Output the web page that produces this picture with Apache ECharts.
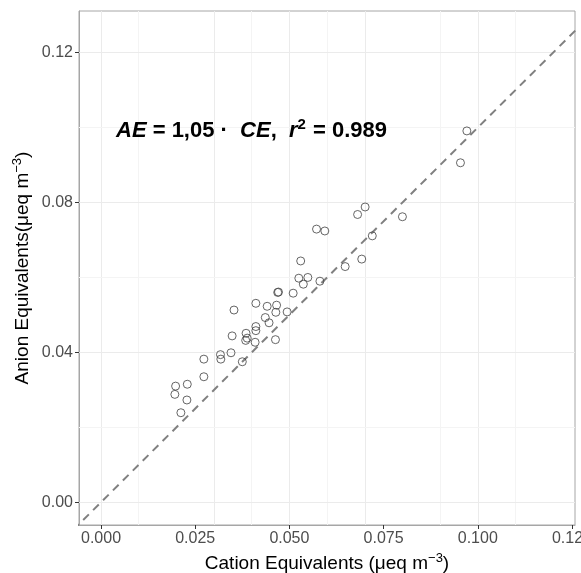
<!DOCTYPE html>
<html>
<head>
<meta charset="utf-8">
<script src="https://cdn.jsdelivr.net/npm/echarts@6/dist/echarts.min.js"></script>
<style>
    html, body { margin: 0; padding: 0; background: #fff; }
    #main { width: 581px; height: 573px; }
</style>
</head>
<body>
<div id="main"></div>
<script>
    // cation / anion equivalents (ueq m-3)
    var cationEq = [0.0971, 0.0954, 0.0800, 0.0720, 0.0701, 0.0681, 0.0572, 0.0594, 0.0692, 0.0648,
        0.0530, 0.0525, 0.0549, 0.0537, 0.0581, 0.0510, 0.0469, 0.0471, 0.0411, 0.0441,
        0.0466, 0.0464, 0.0494, 0.0353, 0.0436, 0.0446, 0.0411, 0.0411, 0.0385, 0.0388,
        0.0384, 0.0409, 0.0463, 0.0348, 0.0345, 0.0317, 0.0318, 0.0273, 0.0375, 0.0273,
        0.0198, 0.0229, 0.0196, 0.0228, 0.0212];
    var anionEq = [0.0991, 0.0906, 0.0762, 0.0711, 0.0788, 0.0768, 0.0729, 0.0724, 0.0649, 0.0629,
        0.0644, 0.0598, 0.0600, 0.0582, 0.0590, 0.0558, 0.0560, 0.0561, 0.0531, 0.0523,
        0.0526, 0.0507, 0.0508, 0.0513, 0.0493, 0.0479, 0.0469, 0.0458, 0.0451, 0.0438,
        0.0432, 0.0427, 0.0434, 0.0444, 0.0399, 0.0394, 0.0382, 0.0382, 0.0375, 0.0335,
        0.0310, 0.0315, 0.0288, 0.0273, 0.0239];
    var xTicks = [0, 0.025, 0.05, 0.075, 0.1, 0.125];
    var xMinor = [0.0125, 0.0375, 0.0625, 0.0875, 0.1125];
    var yTicks = [0, 0.04, 0.08, 0.12];
    var yMinor = [0.02, 0.06, 0.10];
    var oneToOne = [[-0.01, -0.01], [0.14, 0.14]];

    var points = [];
    for (var i = 0; i < cationEq.length; i++) {
        points.push([cationEq[i], anionEq[i]]);
    }

    //网格线
    var gridLines = [];
    xTicks.forEach(function (v) { gridLines.push({xAxis: v, lineStyle: {color: '#ebebeb', width: 1, type: 'solid'}}); });
    xMinor.forEach(function (v) { gridLines.push({xAxis: v, lineStyle: {color: '#f4f4f4', width: 1, type: 'solid'}}); });
    yTicks.forEach(function (v) { gridLines.push({yAxis: v, lineStyle: {color: '#ebebeb', width: 1, type: 'solid'}}); });
    yMinor.forEach(function (v) { gridLines.push({yAxis: v, lineStyle: {color: '#f4f4f4', width: 1, type: 'solid'}}); });

    var myChart = echarts.init(document.getElementById('main'));
    var options = {
        animation: false,
        title: {
            left: 116,
            top: 117,
            padding: 0,
            text: '{i|AE}{e| = }{n|1,05 \u00b7  }{i|CE}{n|,  }{i|r}{s|2}{n| = 0.989}',
            textStyle: {
                rich: {
                    i: {fontFamily: 'Liberation Sans', fontSize: 22, fontStyle: 'italic', color: '#000'},
                    e: {fontFamily: 'Liberation Sans', fontSize: 22, color: '#000'},
                    n: {fontFamily: 'Liberation Sans', fontSize: 22, fontWeight: 'bold', color: '#000'},
                    s: {fontFamily: 'Liberation Sans', fontSize: 15, fontWeight: 'bold', color: '#000', padding: [0, 1, 12, 0]}
                }
            }
        },
        grid: {
            left: 79,
            right: 6,
            top: 11,
            bottom: 48,
            containLabel: false,
            outerBoundsMode: 'none',
            show: true,
            borderColor: '#a6a6a6',
            borderWidth: 1
        },
        xAxis: {
            type: 'value',
            min: -0.00584,
            max: 0.1258,
            name: '{a|Cation Equivalents (\u03bceq m}{s|\u22123}{a|)}',
            nameLocation: 'middle',
            nameGap: 26,
            nameTextStyle: {
                rich: {
                    a: {fontFamily: 'Liberation Sans', fontSize: 19, color: '#000'},
                    s: {fontFamily: 'Liberation Sans', fontSize: 13, color: '#000', padding: [0, 0, 11, 0]}
                }
            },
            axisLine: {show: true, onZero: false, lineStyle: {color: '#a6a6a6'}},
            axisTick: {show: true, interval: 0, customValues: xTicks, length: 4, lineStyle: {color: '#333'}},
            axisLabel: {
                customValues: xTicks,
                fontFamily: 'Liberation Sans',
                fontSize: 16,
                color: '#4d4d4d',
                margin: 6,
                hideOverlap: false,
                formatter: function (v) { return v.toFixed(3); }
            },
            splitLine: {show: false}
        },
        yAxis: {
            type: 'value',
            min: -0.00606,
            max: 0.1311,
            name: '{a|Anion Equivalents(\u03bceq m}{s|\u22123}{a|)}',
            nameLocation: 'middle',
            nameGap: 44,
            nameMoveOverlap: false,
            nameTextStyle: {
                rich: {
                    a: {fontFamily: 'Liberation Sans', fontSize: 19, color: '#000'},
                    s: {fontFamily: 'Liberation Sans', fontSize: 13, color: '#000', padding: [0, 0, 11, 0]}
                }
            },
            axisLine: {show: true, onZero: false, lineStyle: {color: '#a6a6a6'}},
            axisTick: {show: true, interval: 0, customValues: yTicks, length: 4, lineStyle: {color: '#333'}},
            axisLabel: {
                customValues: yTicks,
                fontFamily: 'Liberation Sans',
                fontSize: 16,
                color: '#4d4d4d',
                margin: 6,
                formatter: function (v) { return v.toFixed(2); }
            },
            splitLine: {show: false}
        },
        series: [
            {
                type: 'line',
                data: oneToOne,
                symbol: 'none',
                silent: true,
                z: 3,
                lineStyle: {color: '#808080', width: 2, type: [8, 6]},
                markLine: {
                    silent: true,
                    symbol: ['none', 'none'],
                    label: {show: false},
                    z: 1,
                    data: gridLines
                }
            },
            {
                type: 'scatter',
                data: points,
                symbol: 'circle',
                symbolSize: 8,
                z: 4,
                itemStyle: {
                    color: 'rgba(0,0,0,0)',
                    borderColor: '#404040',
                    borderWidth: 1
                }
            }
        ]
    };
    myChart.setOption(options);
</script>
</body>
</html>
